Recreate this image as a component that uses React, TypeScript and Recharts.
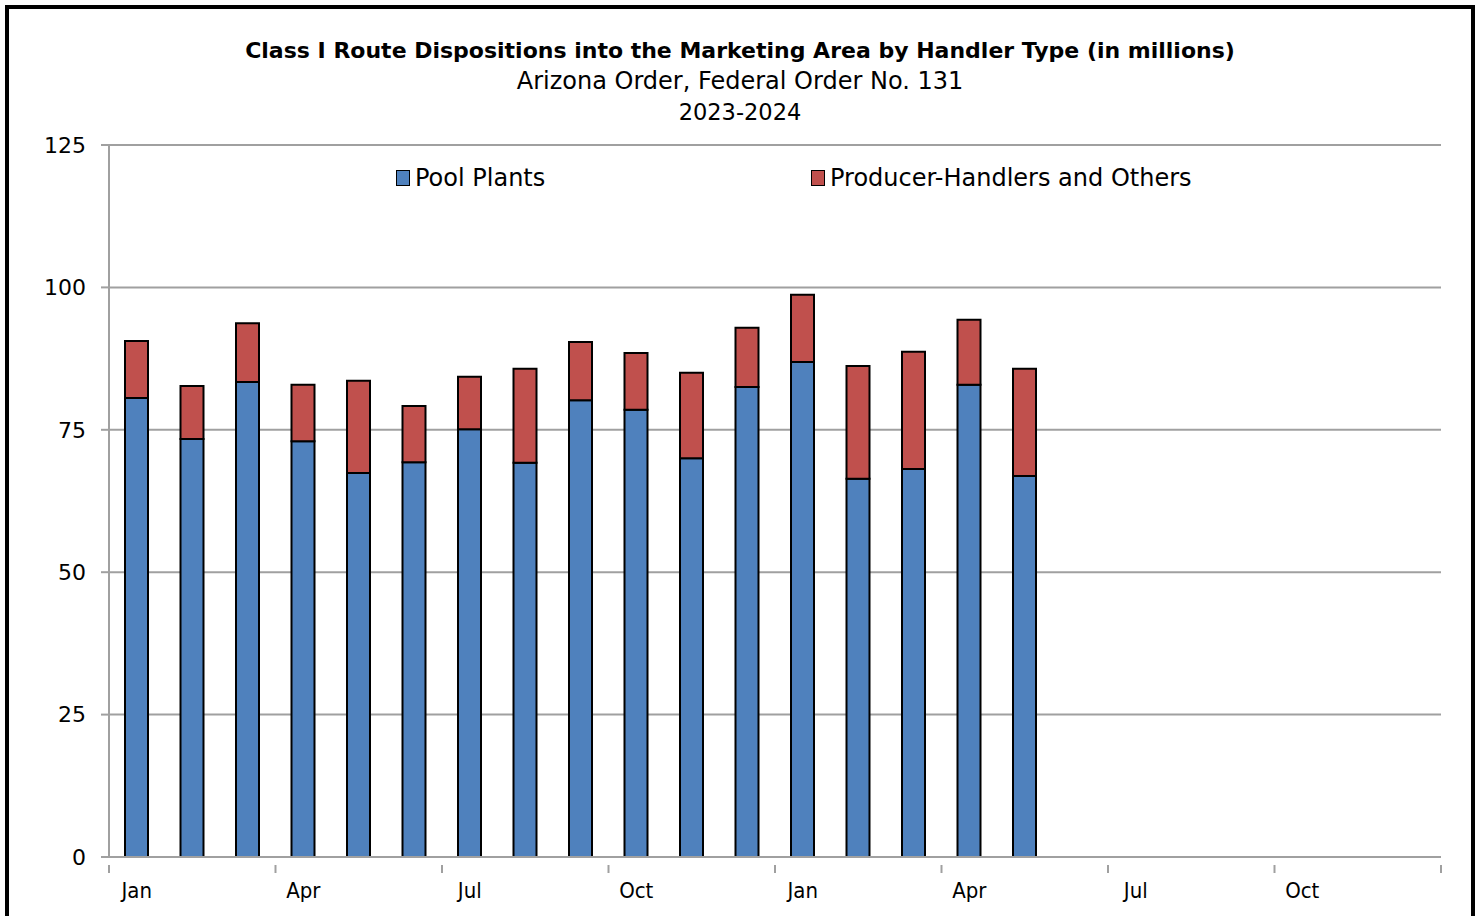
import React from "react"
import { Bar, BarChart, XAxis, YAxis, CartesianGrid } from "recharts"

const months = ["Jan", "Feb", "Mar", "Apr", "May", "Jun", "Jul", "Aug", "Sep", "Oct", "Nov", "Dec"]
const years = [2023, 2024]

// Pool plants (millions), Jan 2023 .. May 2024
const poolPlants = [80.6, 73.4, 83.4, 73.0, 67.4, 69.3, 75.1, 69.2, 80.2, 78.5, 70.0, 82.5, 86.9, 66.4, 68.1, 82.9, 66.9]
// Producer-handlers and others (millions)
const producerHandlers = [10.0, 9.3, 10.3, 9.9, 16.2, 9.9, 9.2, 16.5, 10.2, 10.0, 15.0, 10.4, 11.8, 19.8, 20.6, 11.4, 18.8]

const yTicks = [0, 25, 50, 75, 100, 125]

const FONT = "'DejaVu Sans', sans-serif"
const FONT_NARROW = "'DejaVu Sans Condensed', 'DejaVu Sans', sans-serif"
const BLUE = "#4F81BD"
const RED = "#C0504D"
const GRID = "#a0a0a0"

const data = years.flatMap((y, yi) =>
    months.map((m, mi) => {
        const i = yi * 12 + mi
        return {
            key: `${m} ${y}`,
            pool: poolPlants[i],
            prod: producerHandlers[i],
        }
    })
)

const W = 1480
const H = 916
const PLOT_LEFT = 109
const PLOT_RIGHT = 1441
const BAND = (PLOT_RIGHT - PLOT_LEFT) / data.length

function MonthTick(props: any) {
    const { x, y, index, payload } = props
    const label = String(payload.value).split(" ")[0]
    const showLabel = index % 3 === 0
    return (
        <g>
            {showLabel && (
                <line x1={x - BAND / 2} x2={x - BAND / 2} y1={y} y2={y + 8} stroke={GRID} strokeWidth={2} />
            )}
            {index === data.length - 1 && (
                <line x1={x + BAND / 2} x2={x + BAND / 2} y1={y} y2={y + 8} stroke={GRID} strokeWidth={2} />
            )}
            {showLabel && (
                <text x={x} y={y + 33} textAnchor="middle" fontSize={22} fontFamily={FONT_NARROW} fill="#000">
                    {label}
                </text>
            )}
        </g>
    )
}

function LegendBox() {
    const item = (color: string, text: string, width: number) => (
        <div style={{ display: "flex", alignItems: "center", width }}>
            <span style={{ display: "inline-block", width: 12, height: 14, background: color, border: "1.5px solid #000", marginRight: 5 }} />
            <span>{text}</span>
        </div>
    )
    return (
        <div style={{ position: "absolute", left: 0, top: 163, display: "flex", paddingLeft: 396, fontFamily: FONT, fontSize: 24, lineHeight: "30px", color: "#000" }}>
            {item(BLUE, "Pool Plants", 415)}
            {item(RED, "Producer-Handlers and Others", 500)}
        </div>
    )
}

export default function App() {
    return (
        <div style={{ position: "absolute", left: 0, top: 0, width: W, height: H, overflow: "hidden", background: "#fff" }}>
            <div style={{ position: "absolute", left: 5, top: 5, width: 1462, height: 930, border: "4px solid #000" }} />
            <div style={{ position: "absolute", left: 0, top: 35, width: W, textAlign: "center", fontFamily: FONT, color: "#000", fontSize: 24, lineHeight: "31px" }}>
                <div style={{ fontWeight: "bold", fontSize: 22 }}>Class I Route Dispositions into the Marketing Area by Handler Type (in millions)</div>
                <div>Arizona Order, Federal Order No. 131</div>
                <div style={{ fontSize: 22.5 }}>2023-2024</div>
            </div>
            <div style={{ position: "absolute", left: 0, top: 0 }}>
                <BarChart
                    width={W}
                    height={H}
                    data={data}
                    margin={{ top: 145, right: W - PLOT_RIGHT, left: PLOT_LEFT - 70, bottom: 19 }}
                    barSize={23}
                >
                    <CartesianGrid vertical={false} stroke={GRID} strokeWidth={2} />
                    <XAxis
                        dataKey="key"
                        interval={0}
                        axisLine={{ stroke: GRID, strokeWidth: 2 }}
                        tickLine={false}
                        tick={<MonthTick />}
                        height={40}
                    />
                    <YAxis
                        width={70}
                        domain={[0, 125]}
                        ticks={yTicks}
                        axisLine={{ stroke: GRID, strokeWidth: 2 }}
                        tickLine={{ stroke: GRID, strokeWidth: 2 }}
                        tickSize={8}
                        tickMargin={15}
                        tick={{ fill: "#000", fontSize: 22, fontFamily: FONT }}
                    />
                    <Bar dataKey="pool" stackId="a" fill={BLUE} stroke="#000" strokeWidth={2} isAnimationActive={false} />
                    <Bar dataKey="prod" stackId="a" fill={RED} stroke="#000" strokeWidth={2} isAnimationActive={false} />
                </BarChart>
            </div>
            <LegendBox />
        </div>
    )
}
